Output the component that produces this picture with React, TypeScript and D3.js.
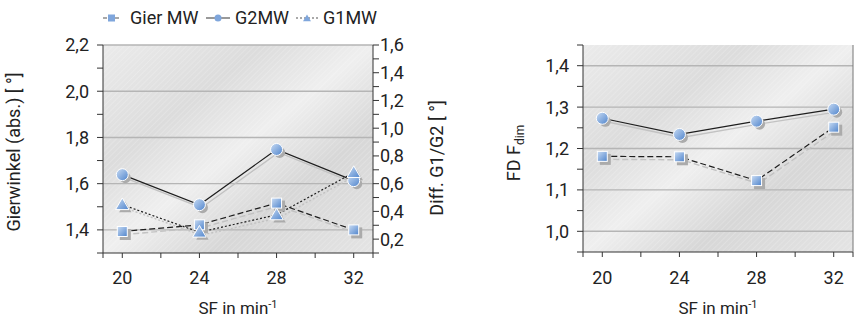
import * as d3 from "d3";

const sf = [20, 24, 28, 32];
const gierMW = [1.393, 1.422, 1.516, 1.4];
const g2MW = [1.639, 1.509, 1.748, 1.613];
const g1MW = [1.509, 1.39, 1.465, 1.648];

const fdG2 = [1.273, 1.234, 1.266, 1.295];
const fdGier = [1.181, 1.18, 1.1225, 1.2515];

const xTicks = [19, 20, 22, 24, 26, 28, 30, 32, 33];
const xLabels = [20, 24, 28, 32];
const leftTicks = [1.3, 1.4, 1.5, 1.6, 1.7, 1.8, 1.9, 2.0, 2.1, 2.2];
const leftLabels = [1.4, 1.6, 1.8, 2.0, 2.2];
const diffTicks = [0.1, 0.2, 0.3, 0.4, 0.5, 0.6, 0.7, 0.8, 0.9, 1.0, 1.1, 1.2, 1.3, 1.4, 1.5, 1.6];
const diffLabels = [0.2, 0.4, 0.6, 0.8, 1.0, 1.2, 1.4, 1.6];
const fdTicks = [0.95, 1.0, 1.05, 1.1, 1.15, 1.2, 1.25, 1.3, 1.35, 1.4, 1.45];
const fdLabels = [1.0, 1.1, 1.2, 1.3, 1.4];

const FONT = "Roboto, 'DejaVu Sans', sans-serif";
const TXT = "#222";
const FS = 18;
const fmt = (v: number) => v.toFixed(1).replace(".", ",");

type Series = { values: number[]; shape: "circle" | "square" | "triangle"; dash: string };

function Marker({ x, y, shape, size, fill, stroke }: any) {
  if (shape === "circle") return <circle cx={x} cy={y} r={size / 2} fill={fill} stroke={stroke} strokeWidth={1} />;
  if (shape === "square")
    return <rect x={x - size / 2} y={y - size / 2} width={size} height={size} fill={fill} stroke={stroke} strokeWidth={1} />;
  const p = d3.symbol(d3.symbolTriangle, size * size * 0.55)();
  return <path d={p || ""} transform={`translate(${x},${y + 1})`} fill={fill} stroke={stroke} strokeWidth={1} />;
}

function Panel({ x0, y0, y1, domain, ticks, labels, series, right, title, id }: any) {
  const x = d3.scaleLinear([19, 33], [x0, x0 + 270]);
  const y = d3.scaleLinear(domain, [y1, y0]);
  const line = d3.line<number>((_, i) => x(sf[i]), (d) => y(d));
  const [xl, xr] = x.range();
  return (
    <g fontFamily={FONT} fill={TXT}>
      <rect x={xl} y={y0} width={xr - xl} height={y1 - y0} fill={`url(#bg${id})`} />
      <rect x={xl} y={y0} width={xr - xl} height={y1 - y0} fill="url(#hatch)" />
      {labels.map((v: number) => (
        <line key={v} x1={xl} x2={xr} y1={y(v)} y2={y(v)} stroke="#b5b5b5" strokeWidth={1.4} />
      ))}
      {/* axes */}
      <line x1={xl} x2={xl} y1={y0} y2={y1} stroke="#333" />
      <line x1={xl} x2={xr} y1={y1} y2={y1} stroke="#333" />
      {right ? (
        <line x1={xr} x2={xr} y1={y0} y2={y1} stroke="#333" />
      ) : (
        <line x1={xr} x2={xr} y1={y0} y2={y1} stroke="#777" />
      )}
      {ticks.map((v: number) => (
        <line key={v} x1={xl - 6} x2={xl} y1={y(v)} y2={y(v)} stroke="#333" />
      ))}
      {labels.map((v: number) => (
        <text key={v} x={xl - 14} y={y(v)} dy="0.36em" textAnchor="end" fontSize={FS}>
          {fmt(v)}
        </text>
      ))}
      {xTicks.map((v) => (
        <line key={v} x1={x(v)} x2={x(v)} y1={y1} y2={y1 + 5} stroke="#333" />
      ))}
      {xLabels.map((v) => (
        <text key={v} x={x(v)} y={284} textAnchor="middle" fontSize={FS}>
          {v}
        </text>
      ))}
      <text x={(xl + xr) / 2} y={314} textAnchor="middle" fontSize={17}>
        SF in min<tspan dy="-6" fontSize={11}>-1</tspan>
      </text>
      {right && (() => {
        const yr = d3.scaleLinear(right.domain, [y1, y0]);
        return (
          <g>
            {right.ticks.map((v: number) => (
              <line key={v} x1={xr} x2={xr + 6} y1={yr(v)} y2={yr(v)} stroke="#333" />
            ))}
            {right.labels.map((v: number) => (
              <text key={v} x={xr + 7} y={yr(v)} dy="0.36em" fontSize={FS}>
                {fmt(v)}
              </text>
            ))}
          </g>
        );
      })()}
      {/* shadow lines */}
      <g transform="translate(2,3)">
        {series.map((s: Series, i: number) => (
          <path key={i} d={line(s.values) || ""} fill="none" stroke="#c2c2c2" strokeWidth={1.4} strokeDasharray={s.dash} />
        ))}
      </g>
      {series.map((s: Series, i: number) => (
        <path key={i} d={line(s.values) || ""} fill="none" stroke="#1e1e1e" strokeWidth={1.2} strokeDasharray={s.dash} />
      ))}
      {series.map((s: Series, i: number) =>
        s.values.map((v, j) => (
          <Marker key={`sh${i}-${j}`} x={x(sf[j]) + 3} y={y(v) + 3} shape={s.shape} size={11} fill="#ababab" stroke="none" />
        ))
      )}
      {series.map((s: Series, i: number) =>
        s.values.map((v, j) => (
          <Marker key={`m${i}-${j}`} x={x(sf[j])} y={y(v)} shape={s.shape} size={s.shape === "square" ? 10 : 12} fill="url(#mk)" stroke="#fff" />
        ))
      )}
      <text transform={`translate(${title.x},${title.y}) rotate(-90)`} textAnchor="middle" fontSize={FS}>
        {title.content}
      </text>
    </g>
  );
}

export default function App() {
  const leftSeries: Series[] = [
    { values: gierMW, shape: "square", dash: "6,3" },
    { values: g2MW, shape: "circle", dash: "" },
    { values: g1MW, shape: "triangle", dash: "2,2" },
  ];
  const rightSeries: Series[] = [
    { values: fdGier, shape: "square", dash: "6,3" },
    { values: fdG2, shape: "circle", dash: "" },
  ];
  const legend = [
    { name: "Gier MW", shape: "square", dash: "4,2", lx: 103, lw: 17, tx: 130 },
    { name: "G2MW", shape: "circle", dash: "", lx: 206, lw: 24, tx: 235 },
    { name: "G1MW", shape: "triangle", dash: "2,2", lx: 296, lw: 22, tx: 323 },
  ];
  return (
    <svg width={854} height={324} style={{ position: "absolute", left: 0, top: 0 }}>
      <defs>
        {["L", "R"].map((id) => (
          <linearGradient key={id} id={`bg${id}`} x1="0" y1="0" x2="1" y2="1">
            <stop offset="0" stopColor="#ebebeb" />
            <stop offset="0.3" stopColor="#dcdcdc" />
            <stop offset="0.5" stopColor="#efefef" />
            <stop offset="0.7" stopColor="#d7d7d7" />
            <stop offset="1" stopColor="#e4e4e4" />
          </linearGradient>
        ))}
        <pattern id="hatch" width={4} height={4} patternUnits="userSpaceOnUse" patternTransform="rotate(45)">
          <line x1={0} y1={0} x2={0} y2={4} stroke="#fff" strokeOpacity={0.35} strokeWidth={1} />
        </pattern>
        <linearGradient id="mk" x1="0" y1="0" x2="1" y2="1">
          <stop offset="0" stopColor="#c9dcf4" />
          <stop offset="1" stopColor="#4f84cc" />
        </linearGradient>
      </defs>
      <Panel
        id="L"
        x0={103}
        y0={45}
        y1={253}
        domain={[1.3, 2.2]}
        ticks={leftTicks}
        labels={leftLabels}
        series={leftSeries}
        right={{ domain: [0.1, 1.6], ticks: diffTicks, labels: diffLabels }}
        title={{ x: 20, y: 152, content: "Gierwinkel (abs.) [ °]" }}
      />
      <text transform="translate(443,158) rotate(-90)" textAnchor="middle" fontSize={FS} fontFamily={FONT} fill={TXT}>
        Diff. G1/G2 [ °]
      </text>
      <Panel
        id="R"
        x0={583}
        y0={45}
        y1={252}
        domain={[0.95, 1.45]}
        ticks={fdTicks}
        labels={fdLabels}
        series={rightSeries}
        right={null}
        title={{
          x: 520,
          y: 153,
          content: (
            <>
              FD F<tspan dy="4" fontSize={12}>dim</tspan>
            </>
          ),
        }}
      />
      <g fontFamily={FONT} fill={TXT}>
        {legend.map((l) => (
          <g key={l.name}>
            <line x1={l.lx} x2={l.lx + l.lw} y1={18} y2={18} stroke="#555" strokeWidth={1.2} strokeDasharray={l.dash} />
            <Marker x={l.lx + l.lw / 2} y={18} shape={l.shape} size={7} fill="#7fa6dc" stroke="none" />
            <text x={l.tx} y={24} fontSize={FS}>
              {l.name}
            </text>
          </g>
        ))}
      </g>
    </svg>
  );
}
